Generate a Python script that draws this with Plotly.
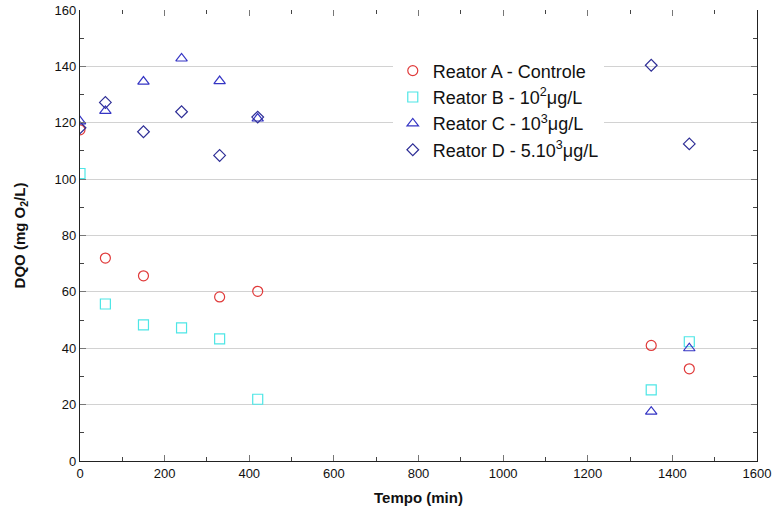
import plotly.graph_objects as go

tempo = [0, 60, 150, 240, 330, 420, 1350, 1440]
tempo_a = [0, 60, 150, 330, 420, 1350, 1440]
reator_a = [117.5, 72.0, 65.7, 58.2, 60.2, 41.0, 32.7]
reator_b = [102.0, 55.7, 48.3, 47.2, 43.3, 21.9, 25.2, 42.3]
reator_c = [120.5, 124.2, 134.6, 142.8, 134.8, 121.5, 17.5, 40.0]
reator_d = [118.2, 127.2, 116.8, 123.9, 108.4, 122.0, 140.4, 112.5]

names = ["Reator A - Controle",
         "Reator B - 10<sup>2</sup>μg/L",
         "Reator C - 10<sup>3</sup>μg/L",
         "Reator D - 5.10<sup>3</sup>μg/L"]

fig = go.Figure()
specs = [
    (tempo_a, reator_a, "circle-open", "#e03a3a", 10),
    (tempo, reator_b, "square-open", "#4ee6e6", 10),
    (tempo, reator_c, "triangle-up-open", "#3535c4", 10),
    (tempo, reator_d, "diamond-open", "#2e2e96", 9),
]
for (xs, ys, sym, col, sz), nm in zip(specs, names):
    fig.add_trace(go.Scatter(x=xs, y=ys, mode="markers", name=nm, cliponaxis=True,
                             marker=dict(symbol=sym, size=sz, color=col,
                                         line=dict(width=1.2, color=col))))

# top axis for tick marks only
fig.add_trace(go.Scatter(x=[0], y=[0], xaxis="x2", mode="markers",
                         marker=dict(opacity=0), showlegend=False, hoverinfo="skip"))

font = "Liberation Sans, Arial, sans-serif"
fig.update_layout(
    width=774, height=515,
    margin=dict(l=80, r=17, t=10, b=54),
    plot_bgcolor="white", paper_bgcolor="white",
    font=dict(family=font, size=13, color="#111"),
    xaxis=dict(range=[0, 1600], dtick=200, showgrid=False, zeroline=False, automargin=False,
               showline=True, linecolor="#222", linewidth=1.2,
               ticks="inside", ticklen=6, tickcolor="#777",
               minor=dict(ticks="inside", dtick=100, ticklen=4, tickcolor="#444"),
               title=dict(text="<b>Tempo (min)</b>", font=dict(size=15), standoff=12)),
    xaxis2=dict(range=[0, 1600], dtick=200, overlaying="x", side="top", automargin=False,
                showgrid=False, zeroline=False, showline=False, showticklabels=False,
                ticks="inside", ticklen=6, tickcolor="#777",
                minor=dict(ticks="inside", dtick=100, ticklen=4, tickcolor="#444")),
    yaxis=dict(range=[0, 160], dtick=20, showgrid=True, gridcolor="#d2d2d2", gridwidth=1,
               zeroline=False, showline=True, linecolor="#222", linewidth=1.2, automargin=False,
               mirror="ticks", ticks="inside", ticklen=6, tickcolor="#777",
               minor=dict(ticks="inside", dtick=10, ticklen=4, tickcolor="#444"),
               title=dict(text="<b>DQO (mg O<sub>2</sub>/L)</b>", font=dict(size=15), standoff=25)),
    legend=dict(x=0.462, y=0.906, xanchor="left", yanchor="top",
                bgcolor="white", borderwidth=0, font=dict(size=18, color="#111"),
                itemsizing="trace", tracegroupgap=0),
    showlegend=True,
)

fig.write_html("out.html", config={"displayModeBar": False},
               post_script="document.body.style.margin='0px';")
